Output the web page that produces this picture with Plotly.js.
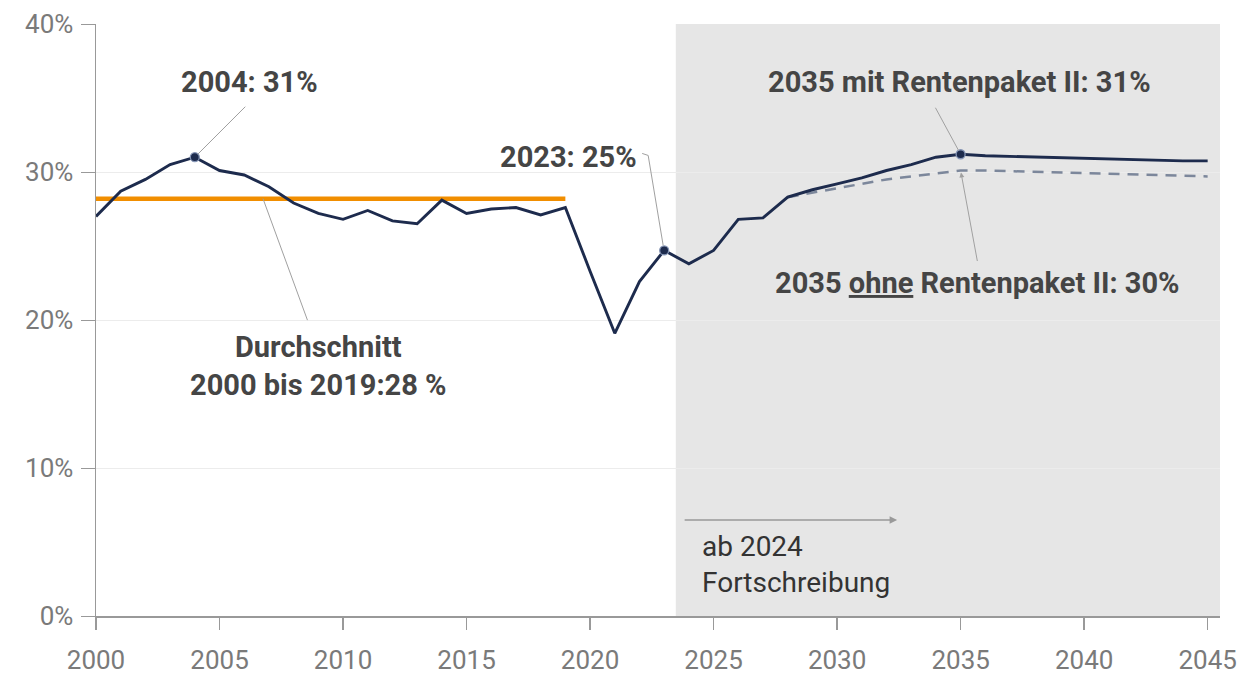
<!DOCTYPE html>
<html><head><meta charset="utf-8">
<script src="https://cdn.plot.ly/plotly-3.0.1.min.js"></script>
<style>html,body{margin:0;padding:0;background:#fff}#chart{width:1246px;height:675px}</style>
</head><body><div id="chart"></div>
<script>
// Years and contribution rate (%) with Rentenpaket II
const years = [2000,2001,2002,2003,2004,2005,2006,2007,2008,2009,2010,2011,2012,2013,2014,2015,2016,2017,2018,2019,
  2020,2021,2022,2023,2024,2025,2026,2027,2028,2029,2030,2031,2032,2033,2034,2035,2036,2037,2038,2039,2040,2041,2042,2043,2044,2045];
const rateWith = [27.0,28.7,29.5,30.5,31.0,30.1,29.8,29.0,27.9,27.2,26.8,27.4,26.7,26.5,28.1,27.2,27.5,27.6,27.1,27.6,
  23.3,19.1,22.6,24.7,23.8,24.7,26.8,26.9,28.3,28.8,29.2,29.6,30.1,30.5,31.0,31.2,31.1,31.05,31.0,31.0,30.9,30.85,30.85,30.8,30.75,30.75];
// Without Rentenpaket II
const ohneYears = [2028,2029,2030,2031,2032,2033,2034,2035,2036,2037,2038,2039,2040,2041,2042,2043,2044,2045];
const rateOhne = [28.3,28.6,28.85,29.2,29.5,29.7,29.9,30.1,30.1,30.05,30.0,29.95,29.9,29.85,29.8,29.8,29.75,29.7];
// Average 2000-2019
const avgYears = [2000, 2019];
const avgRate = 28.2;
const highlightYears = [2004, 2023, 2035];
const forecastStart = 2023.47;
const xTickVals = [2000,2005,2010,2015,2020,2025,2030,2035,2040,2045];
const yTickVals = [0,10,20,30,40];
const yTickText = ['0%','10%','20%','30%','40%'];
const labels = {
  peak: '2004: 31%',
  avg: 'Durchschnitt<br>2000 bis 2019:28 %',
  y2023: '2023: 25%',
  mit: '2035 mit Rentenpaket II: 31%',
  ohne: '2035 <u>ohne</u> Rentenpaket II: 30%',
  forecast: 'ab 2024<br>Fortschreibung'
};

const val = y => rateWith[years.indexOf(y)];
const ohneVal = y => rateOhne[ohneYears.indexOf(y)];

const navy = '#1d2b4d';
const annFont = {family: 'Roboto, sans-serif', size: 29, color: '#454545', weight: 'bold'};
const leader = '#a0a0a0';

const traces = [
  {x: avgYears, y: avgYears.map(() => avgRate), mode: 'lines', line: {color: '#f18e00', width: 4.5}, hoverinfo: 'skip'},
  {x: ohneYears, y: rateOhne, mode: 'lines', line: {color: '#7c879b', width: 2.5, dash: '11px,8px'}, hoverinfo: 'skip'},
  {x: years, y: rateWith, mode: 'lines', line: {color: navy, width: 2.9}, hoverinfo: 'skip'},
  {x: highlightYears, y: highlightYears.map(val), mode: 'markers',
   marker: {size: 9, color: navy, line: {color: '#8595b5', width: 1.3}}, hoverinfo: 'skip'}
];

const layout = {
  width: 1246, height: 675,
  margin: {l: 96, r: 26, t: 24, b: 59},
  paper_bgcolor: '#ffffff', plot_bgcolor: '#ffffff',
  showlegend: false,
  font: {family: 'Roboto, sans-serif'},
  xaxis: {
    range: [2000, 2045.5], tickvals: xTickVals, ticks: 'outside', ticklen: 12, tickcolor: '#999999', tickwidth: 1.5,
    showgrid: false, zeroline: false, showline: true, linecolor: '#999999', linewidth: 2,
    tickfont: {family: 'Roboto, sans-serif', size: 26, color: '#7a7a7a'}, ticklabelstandoff: 8
  },
  yaxis: {
    range: [0, 40], tickvals: yTickVals, ticktext: yTickText, ticks: 'outside', ticklen: 14, tickcolor: '#999999',
    showgrid: true, gridcolor: '#ececec', gridwidth: 1, zeroline: false, showline: true, linecolor: '#999999', linewidth: 1.5,
    tickfont: {family: 'Roboto, sans-serif', size: 26, color: '#7a7a7a'}, ticklabelstandoff: 2
  },
  shapes: [
    {type: 'rect', xref: 'x', yref: 'paper', x0: forecastStart, x1: 2045.5, y0: 0, y1: 1,
     fillcolor: '#e6e6e6', line: {width: 0}, layer: 'below'},
    {type: 'path', xref: 'x', yref: 'y', xsizemode: 'pixel', ysizemode: 'pixel',
     xanchor: 2023, yanchor: val(2023), path: 'M-1,5 L-16,95 L-22,97', line: {color: leader, width: 1}}
  ],
  annotations: [
    {x: 2006.23, y: 36.08, text: labels.peak, showarrow: false, font: annFont},
    {x: 2004, y: val(2004), ax: 52, ay: -52, text: '', showarrow: true, arrowhead: 0, arrowwidth: 1, arrowcolor: leader, standoff: 4},
    {x: 2008.99, y: 16.9, text: labels.avg, showarrow: false, font: annFont, align: 'center'},
    {x: 2006.76, y: avgRate, ax: 45, ay: 123, text: '', showarrow: true, arrowhead: 0, arrowwidth: 1, arrowcolor: leader},
    {x: 2019.11, y: 31.0, text: labels.y2023, showarrow: false, font: annFont},
    {x: 2034.94, y: 36.08, text: labels.mit, showarrow: false, font: annFont},
    {x: 2035, y: val(2035), ax: -26, ay: -48, text: '', showarrow: true, arrowhead: 0, arrowwidth: 1, arrowcolor: leader, standoff: 4},
    {x: 2035.67, y: 22.5, text: labels.ohne, showarrow: false, font: annFont},
    {x: 2035, y: ohneVal(2035), ax: 17, ay: 92, text: '', showarrow: true, arrowhead: 2, arrowsize: 1, arrowwidth: 1, arrowcolor: leader, standoff: 2},
    {x: 2032.43, y: 6.49, ax: -214, ay: 0, text: '', showarrow: true, arrowhead: 2, arrowsize: 1, arrowwidth: 1.5, arrowcolor: '#999999'},
    {x: 2024.45, y: 3.51, text: labels.forecast, showarrow: false, xanchor: 'left', align: 'left',
     font: {family: 'Roboto, sans-serif', size: 28, color: '#333333'}}
  ]
};

Plotly.newPlot('chart', traces, layout, {displayModeBar: false, staticPlot: true});
</script>
</body></html>
